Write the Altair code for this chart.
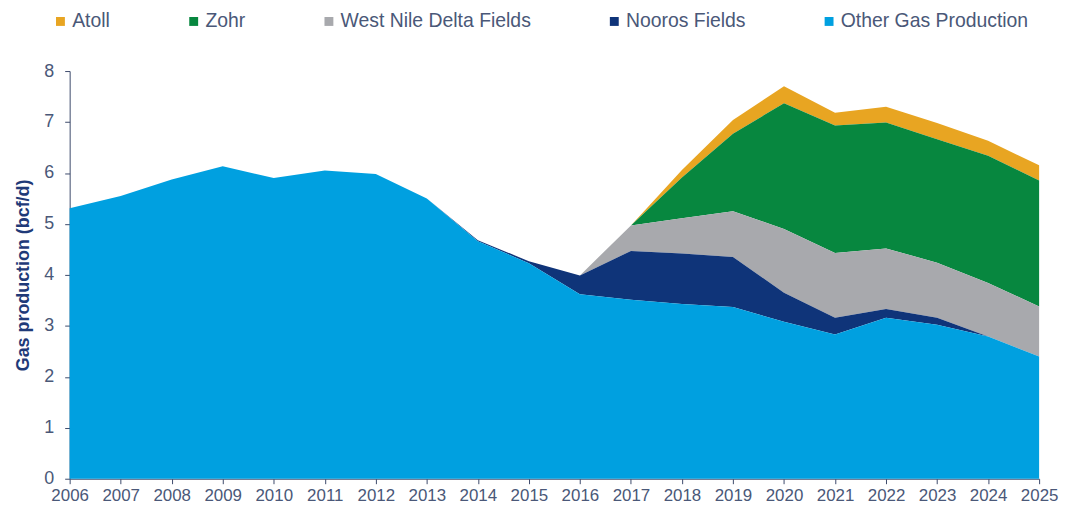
import altair as alt
import pandas as pd

years = list(range(2006, 2026))
series_names = ["Atoll", "Zohr", "West Nile Delta Fields", "Nooros Fields", "Other Gas Production"]
series_colors = ["#E8A522", "#07873F", "#A8A9AD", "#0F3479", "#00A0E0"]

other = [5.31, 5.55, 5.87, 6.13, 5.90, 6.05, 5.98, 5.50, 4.66, 4.23,
         3.62, 3.51, 3.43, 3.37, 3.08, 2.83, 3.16, 3.02, 2.79, 2.40]
nooros = [0, 0, 0, 0, 0, 0, 0, 0, 0.02, 0.04,
          0.37, 0.96, 0.99, 0.98, 0.57, 0.33, 0.17, 0.14, 0, 0]
west_nile = [0, 0, 0, 0, 0, 0, 0, 0, 0, 0,
             0, 0.50, 0.69, 0.90, 1.25, 1.27, 1.19, 1.08, 1.05, 0.98]
zohr = [0, 0, 0, 0, 0, 0, 0, 0, 0, 0,
        0, 0, 0.80, 1.52, 2.47, 2.50, 2.47, 2.42, 2.50, 2.47]
atoll = [0, 0, 0, 0, 0, 0, 0, 0, 0, 0,
         0, 0, 0.15, 0.27, 0.33, 0.25, 0.31, 0.32, 0.29, 0.30]

values = {
    "Atoll": atoll,
    "Zohr": zohr,
    "West Nile Delta Fields": west_nile,
    "Nooros Fields": nooros,
    "Other Gas Production": other,
}
stack_rank = {name: i for i, name in enumerate(reversed(series_names))}

rows = []
for name in series_names:
    for y, v in zip(years, values[name]):
        rows.append({"year": y, "series": name, "value": v, "rank": stack_rank[name]})
df = pd.DataFrame(rows)

label_color = "#4A5878"
axis_color = "#3C4A6B"
font = "Liberation Sans"

chart = alt.Chart(df).mark_area(opacity=1).encode(
    x=alt.X("year:Q",
            scale=alt.Scale(domain=[2006, 2025], nice=False, zero=False),
            axis=alt.Axis(values=years, format="d", title=None, grid=False,
                          tickSize=5, labelPadding=4, labelFontSize=17,
                          labelColor=label_color, domainColor=axis_color,
                          tickColor=axis_color, labelFont=font,
                          labelFlush=False, labelOverlap=False)),
    y=alt.Y("value:Q", stack="zero",
            scale=alt.Scale(domain=[0, 8], nice=False),
            axis=alt.Axis(values=list(range(0, 9)), title="Gas production (bcf/d)",
                          grid=False, tickSize=5, labelPadding=11, labelFontSize=18,
                          labelColor=label_color, domainColor=axis_color,
                          tickColor=axis_color, labelFont=font,
                          titleFont=font, titleFontSize=18, titleFontWeight="bold",
                          titleColor="#1F3A78", titlePadding=11)),
    color=alt.Color("series:N",
                    scale=alt.Scale(domain=series_names, range=series_colors),
                    legend=alt.Legend(orient="none", direction="horizontal",
                                      legendX=-19, legendY=-60, title=None,
                                      symbolType="square", symbolSize=80,
                                      symbolStrokeWidth=0, symbolOpacity=1,
                                      labelFontSize=19.5, labelColor=label_color,
                                      labelFont=font, columnPadding=74,
                                      labelOffset=2, labelLimit=300)),
    order=alt.Order("rank:Q", sort="ascending"),
).properties(
    width=975, height=410,
    autosize=alt.AutoSizeParams(type="none"),
    padding={"left": 62, "top": 62, "right": 22, "bottom": 25},
).configure(background="white").configure_view(stroke=None)

chart.save("out.html", embed_options={"renderer": "svg", "actions": False})
